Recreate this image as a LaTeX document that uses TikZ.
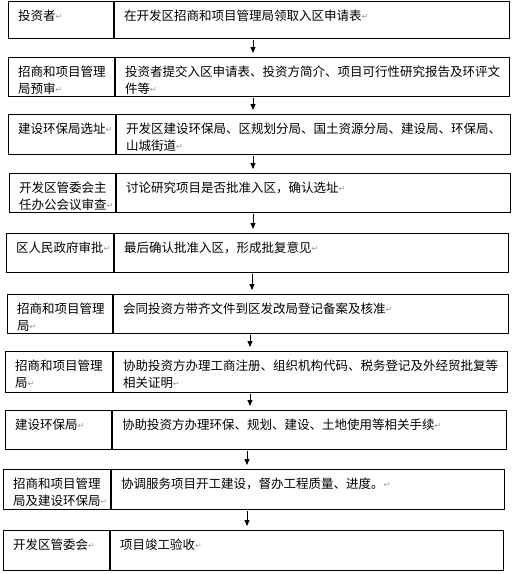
\documentclass[tikz,border=0pt]{standalone}
\usepackage{fontspec}
\usetikzlibrary{arrows.meta}
\newfontfamily\cjk{Noto Sans CJK SC}
\newfontfamily\markfont{DejaVu Sans}
\newcommand{\pmk}{{\markfont\color{black!40}\fontsize{8}{8}\selectfont\raisebox{0.5pt}{↵}}}

\begin{document}
\begin{tikzpicture}[x=1pt, y=-1pt, >={Triangle[length=6pt, width=5pt]},
    rowbox/.style={draw, line width=0.9pt, inner sep=0pt, outer sep=0pt, anchor=north west},
    cut/.style={line width=1.8pt},
    cell/.style={anchor=north west, inner sep=0pt, align=left, font=\cjk\fontsize{12.5}{17}\selectfont},
    flow/.style={->, line width=0.8pt, shorten <=1.5pt, shorten >=4pt}]
  \useasboundingbox (0,0) rectangle (514,574);
  \foreach \i/\lx/\ty/\rx/\by/\dx/\who/\what in {
      1/8/1/509/38/114/{投资者\pmk}/{在开发区招商和项目管理局领取入区申请表\pmk},
      2/8/57/509/96/115/{招商和项目管理\\局预审\pmk}/{投资者提交入区申请表、投资方简介、项目可行性研究报告及环评文\\件等\pmk},
      3/8/114/510/154/116/{建设环保局选址\pmk}/{开发区建设环保局、区规划分局、国土资源分局、建设局、环保局、\\山城街道\pmk},
      4/9/173/510/212/116/{开发区管委会主\\任办公会议审查\pmk}/{讨论研究项目是否批准入区，确认选址\pmk},
      5/6/233/508/272/114/{区人民政府审批\pmk}/{最后确认批准入区，形成批复意见\pmk},
      6/7/294/508/333/113/{招商和项目管理\\局\pmk}/{会同投资方带齐文件到区发改局登记备案及核准\pmk},
      7/5/351/507/392/113/{招商和项目管理\\局\pmk}/{协助投资方办理工商注册、组织机构代码、税务登记及外经贸批复等\\相关证明\pmk},
      8/5/410/506/449/112/{建设环保局\pmk}/{协助投资方办理环保、规划、建设、土地使用等相关手续\pmk},
      9/3/469/504/509/111/{招商和项目管理\\局及建设环保局\pmk}/{协调服务项目开工建设，督办工程质量、进度。\pmk},
      10/3/530/503/570/110/{开发区管委会\pmk}/{项目竣工验收\pmk}} {
    \node[rowbox, minimum width={\rx-\lx}, minimum height={\by-\ty}] (row\i) at (\lx,\ty) {};
    \coordinate (cut\i) at (\dx,\ty);
    \draw[cut] (cut\i) -- (cut\i |- row\i.south);
    \node[cell] (who\i) at ([shift={(10,8.5)}]row\i.north west) {\who};
    \node[cell] (what\i) at ([shift={(10,8.5)}]cut\i) {\what};
  }
  \foreach \i/\j/\off in {1/2/5.5, 2/3/5.5, 3/4/6, 4/5/6.5, 5/6/5, 6/7/7.5, 7/8/6, 8/9/8.5, 9/10/6.5}
    \draw[flow] ([xshift=-\off pt]row\i.south) -- ([xshift=-\off pt]row\i.south |- row\j.north);
\end{tikzpicture}
\end{document}
